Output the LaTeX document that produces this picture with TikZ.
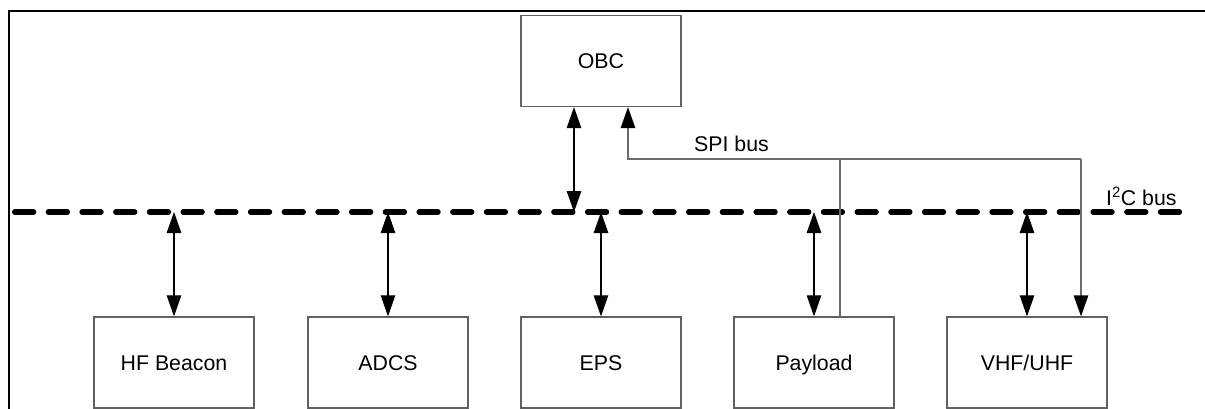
\documentclass[tikz,border=0pt]{standalone}
\usepackage{fontspec}
\setmainfont{Liberation Sans}
\usetikzlibrary{arrows.meta}
\tikzset{
  tip/.tip={Triangle[length=21pt,width=14.5pt,color=black]},
  unit/.style={draw=black!62, line width=1.3pt, minimum width=160pt, minimum height=91pt,
               inner sep=0pt, text height=15.2pt, text depth=0pt,
               font=\fontsize{21.3}{25}\selectfont},
  iic/.style={draw=black, line width=1.1pt, tip-tip},
  spi/.style={draw=black!58, line width=1.3pt},
  spiarrow/.style={spi, -tip},
  busline/.style={line width=5.5pt, line cap=round, dash pattern=on 18.8pt off 14.9pt},
  frameline/.style={line width=2.5pt},
  lbl/.style={font=\fontsize{21.3}{25}\selectfont, inner sep=0pt}
}
\begin{document}
\begin{tikzpicture}[x=1pt, y=-1pt]
  \useasboundingbox (0,0) rectangle (1205,409);

  % outer frame (top and left edges)
  \draw[frameline] (9,409) -- (9,11) -- (1205,11);

  % on-board computer
  \node[unit] (obc) at (601,61) {OBC};

  % subsystem boards
  \node[unit] (hf)  at (174,362.5)  {HF Beacon};
  \node[unit] (adcs) at (388,362.5) {ADCS};
  \node[unit] (eps) at (601,362.5)  {EPS};
  \node[unit] (pay) at (814,362.5)  {Payload};
  \node[unit] (vhf) at (1027,362.5) {VHF/UHF};

  % I2C bus
  \coordinate (busL) at (14.75,212);
  \coordinate (busR) at (1184.5,212);
  \draw[busline] (busL) -- (busR);
  \node[lbl, anchor=base west] (iiclbl) at (1106,205) {I\textsuperscript{2}C bus};

  % I2C taps
  \draw[iic] ([xshift=-27pt]obc.south) -- ([xshift=-27pt]obc.south |- busL);
  \draw[iic] (hf.north |- busL)   -- (hf.north);
  \draw[iic] (adcs.north |- busL) -- (adcs.north);
  \draw[iic] (eps.north |- busL)  -- (eps.north);
  \draw[iic] (pay.north |- busL)  -- (pay.north);
  \draw[iic] (vhf.north |- busL)  -- (vhf.north);

  % SPI bus
  \coordinate (spiL) at (628,159);
  \coordinate (spiP) at (840,159);
  \coordinate (spiR) at (1081,159);
  \draw[spiarrow] (spiR) -- (spiL) -- ([xshift=27pt]obc.south);
  \draw[spi] (spiP) -- (spiP |- pay.north);
  \draw[spiarrow] (spiR) -- (spiR |- vhf.north);
  \node[lbl, anchor=base west] (spilbl) at (694,152) {SPI bus};
\end{tikzpicture}
\end{document}
